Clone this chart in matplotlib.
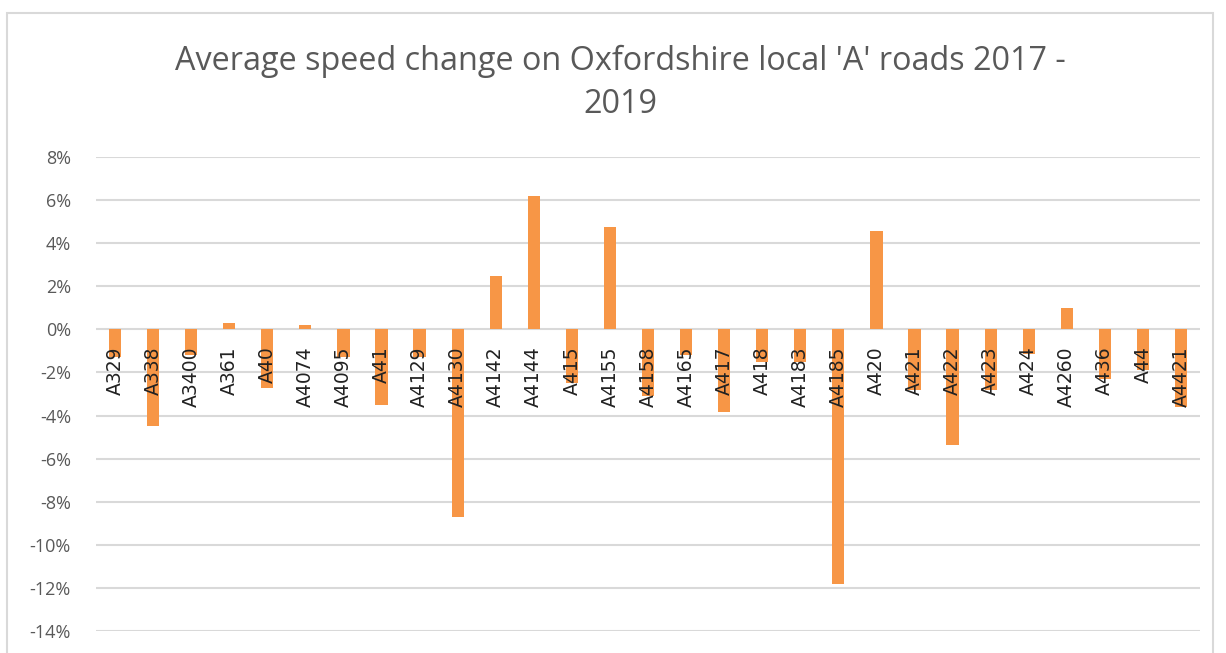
import matplotlib
matplotlib.use('Agg')
import matplotlib.pyplot as plt
from matplotlib.patches import Rectangle
from matplotlib.ticker import PercentFormatter

plt.rcParams['axes.unicode_minus'] = False

roads = ['A329', 'A338', 'A3400', 'A361', 'A40', 'A4074', 'A4095', 'A41', 'A4129',
         'A4130', 'A4142', 'A4144', 'A415', 'A4155', 'A4158', 'A4165', 'A417', 'A418',
         'A4183', 'A4185', 'A420', 'A421', 'A422', 'A423', 'A424', 'A4260', 'A436',
         'A44', 'A4421']
change = [-1.3, -4.5, -1.2, 0.3, -2.7, 0.22, -1.3, -3.5, -1.3,
          -8.7, 2.5, 6.2, -2.5, 4.75, -3.1, -1.2, -3.85, -1.5,
          -1.5, -11.8, 4.55, -2.8, -5.35, -2.8, -1.15, 1.0, -2.3,
          -1.9, -3.6]
change = [c / 100 for c in change]

title = "Average speed change on Oxfordshire local 'A' roads 2017 -\n2019"
bar_col = '#F79646'
grid_col = '#D9D9D9'
text_col = '#595959'

fig = plt.figure(figsize=(12.26, 6.53), dpi=100)
ax = fig.add_axes([96/1226, 1 - 631/653, 1104/1226, 474/653])

x = range(len(roads))
ax.bar(x, change, width=0.32, color=bar_col, zorder=2)
ax.set_xlim(-0.5, len(roads) - 0.5)
ax.set_ylim(-0.14, 0.08)
ax.set_yticks([i / 100 for i in range(-14, 9, 2)])
ax.yaxis.set_major_formatter(PercentFormatter(1.0, decimals=0))
ax.grid(axis='y', color=grid_col, linewidth=1.5)
for s in ax.spines.values():
    s.set_visible(False)

# category labels sit on the zero line, drawn over the bars
ax.spines['bottom'].set_position(('data', 0))
ax.set_xticks(list(x))
ax.set_xticklabels(roads, rotation=90, fontsize=13.5, family='DejaVu Sans',
                   color='#222222')
ax.xaxis.set_zorder(3)
ax.tick_params(axis='x', length=0, pad=12)
ax.tick_params(axis='y', length=0, pad=18, labelsize=13, labelcolor=text_col)
for lab in ax.get_yticklabels():
    lab.set_family('Open Sans')

fig.text(620/1226, 1 - 83/653, title, ha='center', va='center', fontsize=23.3,
         family='Open Sans', color=text_col, linespacing=1.4)

fig.patches.append(Rectangle((7/1226, -0.05), 1206/1226, 1.05 - 13/653,
                             transform=fig.transFigure, fill=False,
                             edgecolor=grid_col, linewidth=1.5))

fig.savefig('out.png', dpi=100)
